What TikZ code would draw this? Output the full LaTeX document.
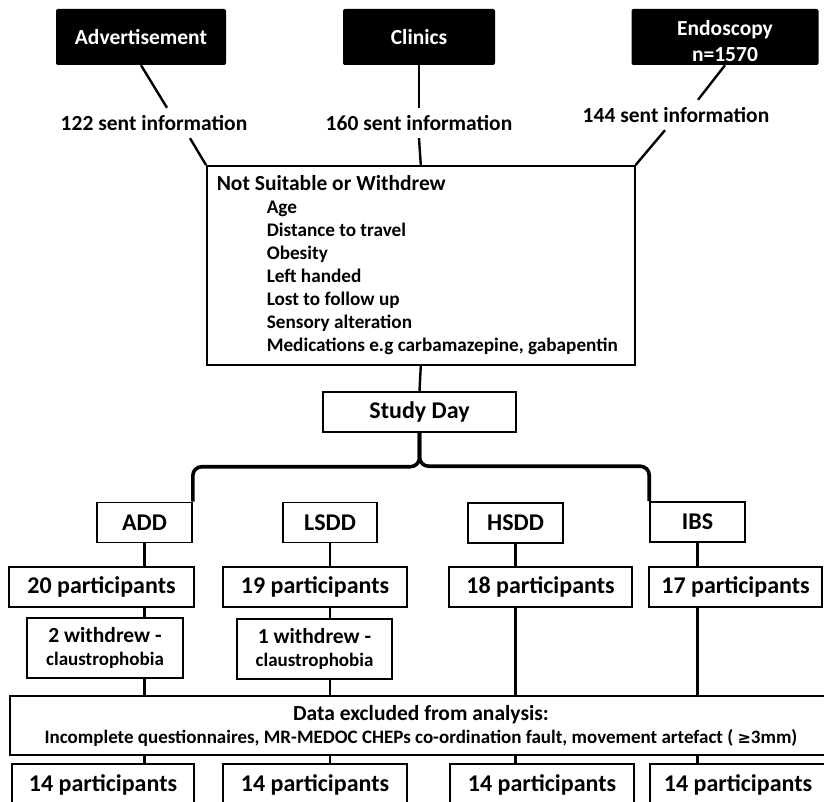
\documentclass[tikz,border=0pt]{standalone}
\usepackage{fontspec}
\setmainfont{Carlito}
\newfontfamily\symfont{DejaVu Sans}
\usepackage{tikz}

\begin{document}
\begin{tikzpicture}[x=1pt,y=-1pt,
  every node/.style={font=\bfseries\fontsize{21.5}{25}\selectfont},
  srcbox/.style={fill=black,text=white,rounded corners=2pt,align=center,inner sep=0pt},
  box/.style={draw,line width=1.6pt,inner sep=0pt,align=center},
  link/.style={line width=2.4pt},
  brace/.style={line width=3.6pt,rounded corners=9pt}]
\clip (0,0) rectangle (824,802);
\node[srcbox,minimum width=170,minimum height=56] (adv) at (141,37) {Advertisement};
\node[srcbox,minimum width=152,minimum height=56] (clin) at (419,37) {Clinics};
\node[srcbox,minimum width=187,minimum height=56] (endo) at (725,37) {\rule{0pt}{23pt}Endoscopy\\[1pt]n=1570};
\node[inner sep=0pt,minimum height=30] (s122) at (154,123) {122 sent information};
\node[inner sep=0pt,minimum height=30] (s160) at (419,123) {160 sent information};
\node[inner sep=0pt,minimum height=30] (s144) at (676,115) {144 sent information};
\node[box,anchor=north west,minimum width=428,minimum height=199,align=left,
  font=\bfseries\fontsize{19.2}{23}\selectfont] (ns) at (206,165)
  {{\fontsize{21.5}{23}\selectfont Not Suitable or Withdrew}\\
   \hspace*{50pt}Age\\
   \hspace*{50pt}Distance to travel\\
   \hspace*{50pt}Obesity\\
   \hspace*{50pt}Left handed\\
   \hspace*{50pt}Lost to follow up\\
   \hspace*{50pt}Sensory alteration\\
   \hspace*{50pt}Medications e.g carbamazepine, gabapentin\hspace*{7pt}};
\node[box,minimum width=193,minimum height=40,font=\bfseries\fontsize{24}{28}\selectfont] (sd) at (419.5,412) {Study Day};
\node[box,minimum width=95,minimum height=40,font=\bfseries\fontsize{24}{28}\selectfont] (add) at (144.5,522.5) {ADD};
\node[box,minimum width=94,minimum height=40,font=\bfseries\fontsize{24}{28}\selectfont] (lsdd) at (330,522.5) {LSDD};
\node[box,minimum width=95,minimum height=40,font=\bfseries\fontsize{24}{28}\selectfont] (hsdd) at (515.5,523) {HSDD};
\node[box,minimum width=95,minimum height=40,font=\bfseries\fontsize{24}{28}\selectfont] (ibs) at (697.5,522) {IBS};
\node[box,minimum width=185,minimum height=40,font=\bfseries\fontsize{24}{28}\selectfont] (p20) at (101.5,587) {20 participants};
\node[box,minimum width=184,minimum height=40,font=\bfseries\fontsize{24}{28}\selectfont] (p19) at (315,587) {19 participants};
\node[box,minimum width=183,minimum height=40,font=\bfseries\fontsize{24}{28}\selectfont] (p18) at (540.5,587) {18 participants};
\node[box,minimum width=173,minimum height=40,font=\bfseries\fontsize{24}{28}\selectfont] (p17) at (735.5,587) {17 participants};
\node[box,minimum width=156,minimum height=60] (w2) at (105,648) {2 withdrew -\\[-2pt]{\fontsize{19}{22}\selectfont claustrophobia}};
\node[box,minimum width=155,minimum height=60] (w1) at (314.5,649) {1 withdrew -\\[-2pt]{\fontsize{19}{22}\selectfont claustrophobia}};
\node[box,minimum width=822,minimum height=59] (data) at (421,725.5) {Data excluded from analysis:\\[-2pt]
  {\fontsize{19}{22}\selectfont Incomplete questionnaires, MR-MEDOC CHEPs co-ordination fault, movement artefact ( {\symfont\bfseries\fontsize{16}{22}\selectfont ≥}3mm)}};
\node[box,minimum width=182,minimum height=42,font=\bfseries\fontsize{24}{28}\selectfont] (q1) at (103,785) {14 participants};
\node[box,minimum width=184,minimum height=42,font=\bfseries\fontsize{24}{28}\selectfont] (q2) at (315,785) {14 participants};
\node[box,minimum width=184,minimum height=42,font=\bfseries\fontsize{24}{28}\selectfont] (q3) at (542,785) {14 participants};
\node[box,minimum width=176,minimum height=42,font=\bfseries\fontsize{24}{28}\selectfont] (q4) at (738,785) {14 participants};
\draw[link] (adv.south) -- ([xshift=13pt]s122.north);
\draw[link] ([xshift=36pt]s122.south) -- (ns.north west);
\draw[link] (clin.south) -- (s160.north);
\draw[link] (s160.south) -- (ns.north);
\draw[link] (endo.south) -- ([xshift=22pt]s144.north);
\draw[link] ([xshift=-11pt]s144.south) -- (ns.north east);
\draw[link] (ns.south) -- (sd.north);
\draw[brace] (add.north east) -- ++(0,-35) -| (sd.south);
\draw[brace] (ibs.north west) -- ++(0,-35) -| (sd.south);
\draw[link] (add.south) -- (add.south |- p20.north);
\draw[link] (lsdd.south) -- (lsdd.south |- p19.north);
\draw[link] (hsdd.south) -- (hsdd.south |- p18.north);
\draw[link] (ibs.south) -- (ibs.south |- p17.north);
\draw[link] (add.south |- p20.south) -- (add.south |- w2.north);
\draw[link] (lsdd.south |- p19.south) -- (lsdd.south |- w1.north);
\draw[link] (add.south |- w2.south) -- (add.south |- data.north);
\draw[link] (lsdd.south |- w1.south) -- (lsdd.south |- data.north);
\draw[link] (hsdd.south |- p18.south) -- (hsdd.south |- data.north);
\draw[link] (ibs.south |- p17.south) -- (ibs.south |- data.north);
\draw[link] (add.south |- data.south) -- (add.south |- q1.north);
\draw[link] (lsdd.south |- data.south) -- (lsdd.south |- q2.north);
\draw[link] (hsdd.south |- data.south) -- (hsdd.south |- q3.north);
\draw[link] (ibs.south |- data.south) -- (ibs.south |- q4.north);
\end{tikzpicture}
\end{document}
